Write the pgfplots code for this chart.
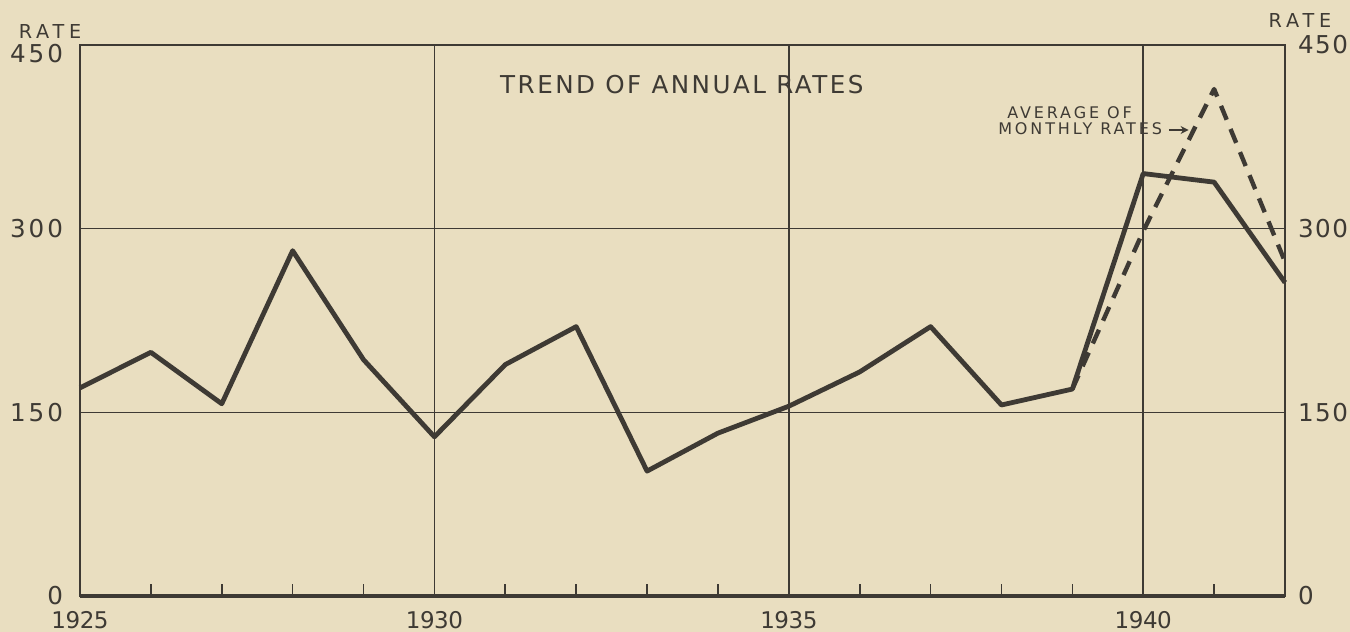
\documentclass[border=0pt]{standalone}
\usepackage{pgfplots}
\pgfplotsset{compat=1.18}
\usepackage{fontspec}
\setmainfont{DejaVu Sans}
\usetikzlibrary{arrows.meta}
\definecolor{paper}{RGB}{233,222,192}
\definecolor{ink}{RGB}{62,58,52}
\begin{document}
\begin{tikzpicture}
\fill[paper] (-40pt,-18pt) rectangle (635pt,298pt);
\path[use as bounding box] (-40pt,-18pt) rectangle (635pt,298pt);
\begin{axis}[
  scale only axis, width=602.5pt, height=275.5pt,
  xmin=1925, xmax=1942, ymin=0, ymax=450,
  xtick={1925,1930,1935,1940}, xticklabels={1925,1930,1935,1940},
  minor xtick={1926,1927,1928,1929,1931,1932,1933,1934,1936,1937,1938,1939,1941},
  ytick={0,150,300}, yticklabels={0,150,300},
  extra y ticks={450}, extra y tick labels={450},
  extra y tick style={yticklabel style={yshift=-4.5pt}},
  xtick pos=bottom, ytick pos=left,
  major tick length=0pt, minor tick length=6pt, tick align=inside,
  minor tick style={ink, line width=0.8pt},
  xmajorgrids, ymajorgrids,
  grid style={ink, line width=0.8pt},
  axis line style={ink, line width=1pt},
  xticklabel style={font=\fontsize{11.5}{12}\selectfont\addfontfeature{LetterSpace=-2}, text=ink, yshift=-4pt},
  yticklabel style={font=\fontsize{12.3}{13}\selectfont\addfontfeature{LetterSpace=12}, text=ink, xshift=-5pt},
  clip=false,
]
\addplot[ink, line width=2.4pt, line join=round] coordinates {
(1925,170) (1926,199) (1927,157) (1928,282) (1929,193) (1930,130)
(1931,189) (1932,220) (1933,102) (1934,133) (1935,155) (1936,183)
(1937,220) (1938,156) (1939,169) (1940,345) (1941,338) (1942,256)};
\addplot[ink, line width=2.2pt, dash pattern=on 7.5pt off 5pt, line join=round] coordinates {
(1939,169) (1940,298) (1941,414) (1942,273)};
\draw[ink, line width=2.2pt] (rel axis cs:0,0) -- (rel axis cs:1,0);
\node[text=ink, font=\fontsize{12.3}{13}\selectfont\addfontfeature{LetterSpace=10}] at (axis cs:1933.49,418) {TREND OF ANNUAL RATES};
\node[text=ink, font=\fontsize{8}{9}\selectfont\addfontfeature{LetterSpace=18}] at (axis cs:1938.96,394.5) {AVERAGE OF};
\node[text=ink, font=\fontsize{8}{9}\selectfont\addfontfeature{LetterSpace=18}] at (axis cs:1939.11,381.3) {MONTHLY RATES};
\draw[ink, line width=1.2pt, -{Stealth[length=4pt,width=4pt]}] (axis cs:1940.36,380.6) -- (axis cs:1940.64,380.6);
\node[text=ink, font=\fontsize{9.6}{10}\selectfont\addfontfeature{LetterSpace=25}] at (rel axis cs:-0.0249,1.025) {RATE};
\node[text=ink, font=\fontsize{9.6}{10}\selectfont\addfontfeature{LetterSpace=25}] at (rel axis cs:1.0124,1.0436) {RATE};
\end{axis}
\begin{axis}[
  scale only axis, width=602.5pt, height=275.5pt,
  xmin=1925, xmax=1942, ymin=0, ymax=450,
  axis x line=none, axis y line*=right,
  y axis line style={draw=none},
  ytick={0,150,300,450}, yticklabels={0,150,300,450},
  major tick length=0pt,
  yticklabel style={font=\fontsize{12.3}{13}\selectfont\addfontfeature{LetterSpace=6}, text=ink, xshift=3pt},
]
\end{axis}
\end{tikzpicture}
\end{document}
